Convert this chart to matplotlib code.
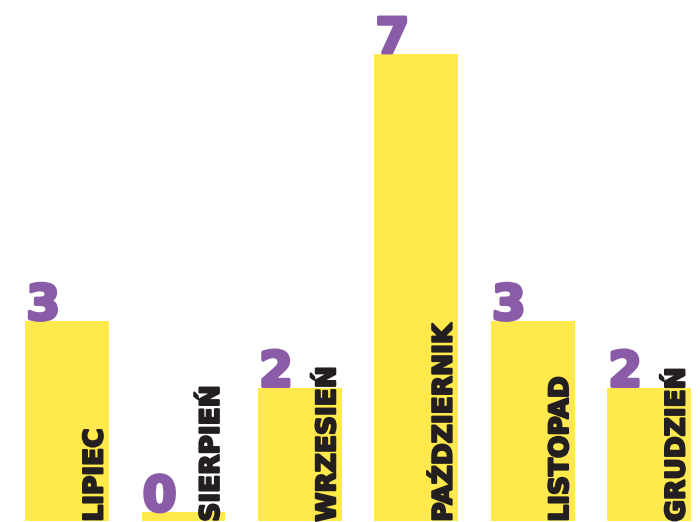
import matplotlib.pyplot as plt
import matplotlib.patheffects as pe

months = ['LIPIEC', 'SIERPIEŃ', 'WRZESIEŃ', 'PAŹDZIERNIK', 'LISTOPAD', 'GRUDZIEŃ']
counts = [3, 0, 2, 7, 3, 2]

yellow = '#FFE94D'
purple = '#8A5CA8'
dark = '#231F20'
width = 0.72

fig = plt.figure(figsize=(7, 5.22), dpi=100)
ax = fig.add_axes([0, 0, 1, 1])
ax.set_xlim(-0.576, 5.438)
ax.set_ylim(-0.015, 7.81)
ax.axis('off')

x = list(range(len(months)))
# zero bar still gets a small stub
heights = [max(c, 0.13) for c in counts]
ax.bar(x, heights, width=width, color=yellow)

for xi, h, c, m in zip(x, heights, counts, months):
    ax.text(xi - width / 2 + 0.01, h + 0.02, str(c), ha='left', va='baseline',
            fontsize=35, fontweight='bold', color=purple,
            path_effects=[pe.withStroke(linewidth=2.5, foreground=purple)])
    ax.text(xi + width / 2 - 0.005, -0.01, m, rotation=90, ha='right', va='bottom',
            fontsize=19, fontweight='bold', color=dark,
            path_effects=[pe.withStroke(linewidth=1.6, foreground=dark)])

fig.savefig('out.png', dpi=100)
